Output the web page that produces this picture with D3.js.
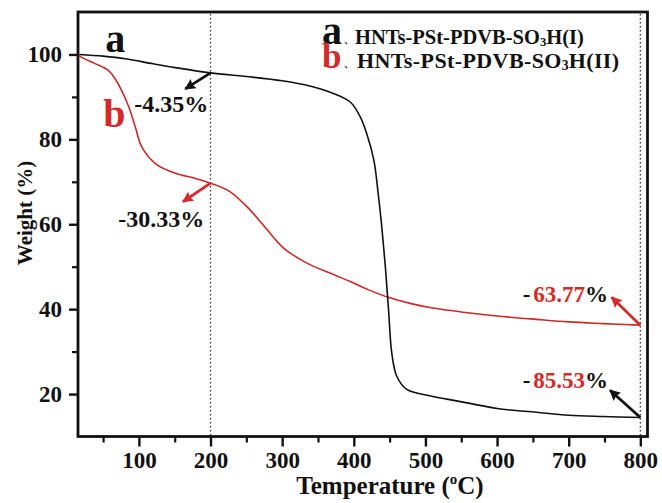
<!DOCTYPE html>
<html>
<head>
<meta charset="utf-8">
<script src="https://cdn.jsdelivr.net/npm/d3@7/dist/d3.min.js"></script>
<style>
  body { margin: 0; background: #fff; }
  svg text { font-family: "Liberation Serif", "Times New Roman", serif; font-weight: bold; }
</style>
</head>
<body>
<div id="chart"></div>
<script>
"use strict";
/*values: temperature (C) and weight (%)*/
var tempA = [17, 50, 81, 120, 151, 200, 250, 300, 340, 367, 395, 409, 418, 428, 434, 439, 444, 448.5, 453, 460, 474, 506, 530, 562, 600, 655, 700, 748, 800];
var weightA = [100, 99.6, 99.0, 97.8, 96.9, 95.65, 94.8, 93.8, 92.5, 91.1, 88.8, 85.3, 81.4, 75.1, 67.3, 59.5, 50.1, 39.9, 29.7, 24.2, 21.1, 19.6, 18.8, 17.8, 16.6, 15.7, 15.0, 14.7, 14.47];
var tempB = [16, 20, 38, 57, 67, 76, 86, 95, 104, 123, 151, 179, 200, 227, 255, 279, 302, 334, 371, 395, 420, 448, 480, 506, 562, 600, 655, 700, 748, 800];
var weightB = [99.8, 99.3, 97.9, 96.3, 94.2, 91.5, 87.6, 82.9, 78.2, 74.3, 72.0, 70.8, 69.67, 67.7, 63.4, 58.7, 54.4, 50.9, 48.2, 46.5, 44.6, 42.8, 41.3, 40.4, 39.1, 38.4, 37.6, 37.0, 36.6, 36.23];
var xTicks = [100, 200, 300, 400, 500, 600, 700, 800];
var yTicks = [20, 40, 60, 80, 100];
var guideTemps = [200, 800];
var legendKeys = ["a", "b"];
var legendNames = ["HNTs-PSt-PDVB-SO", "HNTs-PSt-PDVB-SO"];
var legendTails = ["H(I)", "H(II)"];
/*arrow annotations: from point on curve to tip, in data units*/
var arrowFrom = [[200, 95.65], [200, 69.67], [800, 36.23], [800, 14.47]];
var arrowTo = [[164.7, 91.9], [161.5, 65.3], [760, 42.8], [757.7, 20.9]];
var arrowColor = ["#111", "#d42a2a", "#d42a2a", "#111"];
var lossValues = ["4.35", "30.33", "63.77", "85.53"];
var lossAt = [[196.8, 86.4], [191.2, 59.4], [755, 41.8], [755, 21.5]];

var W = 662, H = 503;
var red = "#d42a2a", lineRed = "#cc2a2a";
var pLeft = 78, pRight = 647.5, pTop = 12, pBottom = 436.5;

var svg = d3.select("#chart").append("svg")
  .attr("width", W)
  .attr("height", H);

var x = d3.scaleLinear().domain([15, 810]).range([pLeft, pRight]);
var y = d3.scaleLinear().domain([10, 110]).range([pBottom, pTop]);

// dotted guides
svg.selectAll("line.guide")
  .data(guideTemps)
  .enter()
  .append("line")
    .attr("class", "guide")
    .attr("x1", function(d) {return x(d);})
    .attr("x2", function(d) {return x(d);})
    .attr("y1", pTop + 2)
    .attr("y2", pBottom - 1)
    .attr("stroke", "#333")
    .attr("stroke-width", 1.3)
    .attr("stroke-dasharray", "1.4,2.6");

// minor ticks
var xMinor = d3.range(50, 801, 100);
var yMinor = d3.range(10, 101, 20).slice(1);
svg.append("g")
  .attr("transform", "translate(0," + pBottom + ")")
  .call(d3.axisBottom(x).tickValues(xMinor).tickSize(6).tickFormat(""))
  .call(function(a) {a.select(".domain").remove(); a.selectAll("line").attr("stroke-width", 2.2).attr("stroke", "#111");});
svg.append("g")
  .attr("transform", "translate(" + pLeft + ",0)")
  .call(d3.axisLeft(y).tickValues(yMinor).tickSize(6).tickFormat(""))
  .call(function(a) {a.select(".domain").remove(); a.selectAll("line").attr("stroke-width", 2.2).attr("stroke", "#111");});

// major ticks + labels
var xAxis = svg.append("g")
  .attr("transform", "translate(0," + pBottom + ")")
  .call(d3.axisBottom(x).tickValues(xTicks).tickSize(10).tickPadding(5));
xAxis.select(".domain").remove();
xAxis.selectAll("line").attr("stroke-width", 2.4).attr("stroke", "#111");
xAxis.selectAll("text").attr("font-size", 23).attr("fill", "#111");

var yAxis = svg.append("g")
  .attr("transform", "translate(" + pLeft + ",0)")
  .call(d3.axisLeft(y).tickValues(yTicks).tickSize(9).tickPadding(7));
yAxis.select(".domain").remove();
yAxis.selectAll("line").attr("stroke-width", 2.4).attr("stroke", "#111");
yAxis.selectAll("text").attr("font-size", 23).attr("fill", "#111");

// frame
svg.append("rect")
  .attr("x", pLeft)
  .attr("y", pTop)
  .attr("width", pRight - pLeft)
  .attr("height", pBottom - pTop)
  .attr("fill", "none")
  .attr("stroke", "#111")
  .attr("stroke-width", 2.8);

// curves
var line = d3.line()
  .x(function(d) {return x(d[0]);})
  .y(function(d) {return y(d[1]);})
  .curve(d3.curveCatmullRom.alpha(0.5));

svg.append("path")
  .datum(d3.zip(tempB, weightB))
  .attr("d", line)
  .attr("fill", "none")
  .attr("stroke", lineRed)
  .attr("stroke-width", 1.6);

svg.append("path")
  .datum(d3.zip(tempA, weightA))
  .attr("d", line)
  .attr("fill", "none")
  .attr("stroke", "#111")
  .attr("stroke-width", 1.6);

// arrows
var defs = svg.append("defs");
["#111", "#d42a2a"].forEach(function(c, i) {
  defs.append("marker")
    .attr("id", "head" + i)
    .attr("viewBox", "0 0 10 10")
    .attr("refX", 9)
    .attr("refY", 5)
    .attr("markerWidth", 14)
    .attr("markerHeight", 11)
    .attr("markerUnits", "userSpaceOnUse")
    .attr("orient", "auto")
    .append("path")
      .attr("d", "M0,0 L10,5 L0,10 L1.5,5 Z")
      .attr("fill", c);
});
arrowFrom.forEach(function(p, i) {
  svg.append("line")
    .attr("x1", x(p[0]))
    .attr("y1", y(p[1]))
    .attr("x2", x(arrowTo[i][0]))
    .attr("y2", y(arrowTo[i][1]))
    .attr("stroke", arrowColor[i])
    .attr("stroke-width", 2.8)
    .attr("marker-end", "url(#head" + (arrowColor[i] === "#111" ? 0 : 1) + ")");
});

// weight-loss labels
lossValues.forEach(function(v, i) {
  var t = svg.append("text")
    .attr("x", x(lossAt[i][0]))
    .attr("y", y(lossAt[i][1]))
    .attr("text-anchor", "end")
    .attr("font-size", i < 2 ? 24 : 23)
    .attr("fill", "#111");
  if (i < 2) {
    t.text("-" + v + "%");
  } else {
    t.append("tspan").text("-");
    t.append("tspan").attr("dx", 3).attr("fill", red).text(v);
    t.append("tspan").text("%");
  }
});

// curve letters
svg.append("text")
  .attr("x", x(53.2))
  .attr("y", y(100.47))
  .attr("font-size", 40)
  .attr("fill", "#111")
  .text("a");
svg.append("text")
  .attr("x", x(50.4))
  .attr("y", y(82.8))
  .attr("font-size", 40)
  .attr("fill", red)
  .text("b");

// legend, one text block with two rows
var lgY = [43.5, 68];
var lgSize = [20.5, 22];
var lgX = [355, 357];
var legend = svg.append("text")
  .attr("fill", "#111");
legendNames.forEach(function(name, i) {
  legend.append("tspan")
    .attr("x", 322)
    .attr("y", lgY[i])
    .attr("font-size", i === 0 ? 40 : 35)
    .attr("fill", i === 0 ? "#111" : red)
    .text(legendKeys[i]);
  legend.append("tspan")
    .attr("x", 344)
    .attr("y", lgY[i] - 1)
    .attr("font-size", 10)
    .text("\u3001");
  legend.append("tspan")
    .attr("x", lgX[i])
    .attr("y", lgY[i])
    .attr("font-size", lgSize[i])
    .attr("letter-spacing", i === 0 ? 0 : 0.4)
    .text(name);
  legend.append("tspan")
    .attr("font-size", lgSize[i] * 0.62)
    .attr("dy", 2)
    .text("3");
  legend.append("tspan")
    .attr("font-size", lgSize[i])
    .attr("letter-spacing", i === 0 ? 0 : 0.4)
    .attr("dy", -2)
    .text(legendTails[i]);
});

// axis titles
svg.append("text")
  .attr("transform", "translate(32,213) rotate(-90)")
  .attr("text-anchor", "middle")
  .attr("font-size", 21)
  .attr("fill", "#111")
  .text("Weight (%)");

var xt = svg.append("text")
  .attr("x", 390)
  .attr("y", 494)
  .attr("text-anchor", "middle")
  .attr("font-size", 25)
  .attr("fill", "#111");
xt.append("tspan").text("Temperature (");
xt.append("tspan").attr("font-size", 15).attr("dy", -10).text("o");
xt.append("tspan").attr("dy", 10).text("C)");
</script>
</body>
</html>
